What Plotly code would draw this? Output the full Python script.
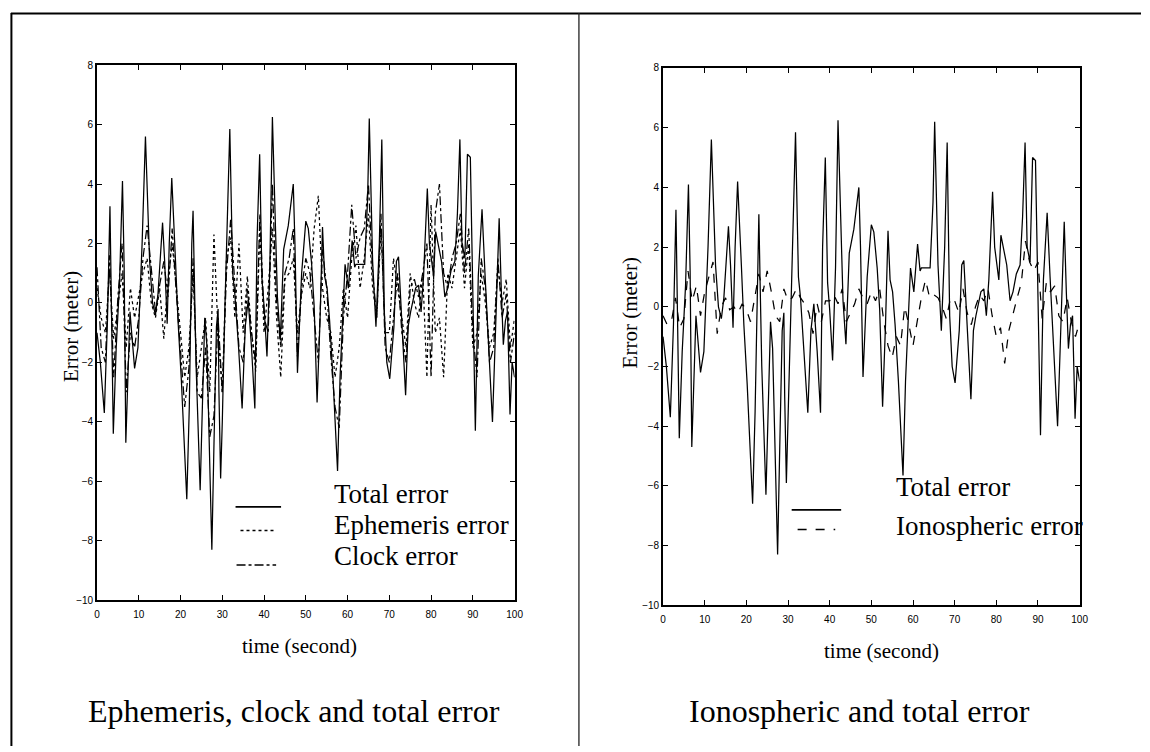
import plotly.graph_objects as go

# ---------------- data ----------------
total_t = [0.0, 0.8, 1.75, 2.5, 3.1, 3.5, 3.9, 4.6, 5.4, 6.1, 6.5, 6.9, 7.4, 7.9, 8.3, 9.0, 9.8,
           10.3, 10.8, 11.6, 12.6, 13.3, 14.0, 14.6, 15.7, 16.2, 16.8, 17.3, 17.9, 18.8, 19.4,
           20.2, 21.5, 22.1, 22.7, 23.0, 23.3, 23.7, 24.7, 25.2, 25.8, 26.3, 26.9, 27.5, 28.0,
           28.6, 29.0, 29.2, 29.6, 30.0, 30.6, 31.1, 31.8, 32.5, 33.0, 33.9, 34.75, 35.5, 36.2,
           37.0, 37.8, 38.3, 38.95, 39.5, 40.0, 40.7, 41.4, 42.0, 42.7, 43.2, 43.9, 44.7, 45.8,
           47.0, 47.4, 48.0, 49.0, 50.0, 50.6, 51.4, 52.0, 52.7, 53.4, 54.0, 54.5, 55.1, 55.7,
           56.5, 57.6, 58.2, 58.8, 59.4, 60.2, 61.1, 61.7, 62.0, 64.1, 64.8, 65.2, 66.0, 66.8,
           67.6, 68.2, 68.8, 69.4, 70.1, 71.1, 71.7, 72.2, 72.7, 73.2, 73.9, 74.5, 75.1, 76.3,
           77.0, 77.6, 78.2, 79.1, 79.6, 80.6, 81.1, 82.5, 83.3, 84.0, 84.8, 85.7, 86.3, 86.9,
           87.4, 88.1, 88.7, 89.4, 89.8, 90.6, 91.3, 92.2, 92.9, 93.7, 94.7, 95.3, 96.3, 96.8,
           97.3, 97.8, 98.3, 98.9, 99.4, 100.0]
total_err = [-1.0, -2.0, -3.7, -0.6, 3.25, -0.8, -4.4, -1.5, 0.7, 4.1, 1.2, -4.7, -2.6, -0.3, -1.0,
             -2.2, -1.5, 0.0, 2.0, 5.6, 1.4, 0.0, -0.4, 0.3, 2.7, 1.4, -0.7, 2.0, 4.2, 1.4, -0.6,
             -2.6, -6.6, -3.5, 2.0, 3.1, 0.8, -2.0, -6.3, -3.5, -0.5, -1.4, -4.8, -8.3, -4.8,
             -0.8, -0.2, -3.0, -5.9, -4.0, -0.3, 2.1, 5.85, 1.0, 0.3, -1.5, -3.55, -0.8, 0.1,
             -1.5, -3.55, 2.0, 5.0, 0.8, -0.1, -1.8, 1.3, 6.25, 2.3, 0.2, -1.25, 1.8, 2.6,
             4.0, 2.0, -2.35, 1.0, 2.75, 2.5, 1.3, -0.1, -3.35, -0.6, 2.55, 0.9, 0.5, -0.6,
             -2.5, -5.65, -2.5, -0.6, 1.3, 0.5, 2.1, 1.2, 1.3, 1.3, 3.5, 6.2, 1.4, -0.8,
             2.0, 5.5, -0.3, -2.0, -2.55, -0.8, 1.4, 1.55, 0.2, -0.8, -3.1, -0.8, -0.3, 0.5,
             0.6, -0.3, 0.9, 3.85, 2.0, 0.9, 2.4, 1.4, 0.2, 0.5, 1.1, 1.4, 3.0, 5.5,
             2.0, 1.5, 5.0, 4.9, 2.0, -4.3, 0.9, 3.15, 1.0, -1.4, -4.0, -1.5, 2.85, 0.5,
             -1.4, -0.6, -0.3, -3.75, -2.0, -2.5]

comp_t = list(range(0, 101))
ephemeris_err = [0.5, -0.5, -1.0, 1.0, -1.2, 0.0, 1.0, -1.5, 0.5, -0.5, 0.3, 1.0, 1.5, 0.0, -0.5,
                 0.5, -1.2, 0.8, 2.0, 0.5, -1.0, -2.5, -1.5, 1.0, -2.5, -1.5, -0.5, -3.0, 2.3,
                 -1.0, -3.0, 1.5, 2.2, -0.5, 2.0, -1.0, 0.9, -1.0, -2.3, 2.5, -1.0, 0.5, 2.5,
                 -0.5, -2.5, 0.8, 1.0, 1.5, -1.0, 0.3, 1.0, 0.5, 2.5, 3.6, 0.5, -0.5, -1.0,
                 -2.5, -1.5, 0.5, -0.5, 1.5, 2.6, 0.5, 1.5, 3.0, 0.5, -0.5, 2.5, -1.0, -1.0,
                 1.5, 0.5, -0.5, -1.5, 1.0, 0.0, -0.5, 1.0, -2.5, 3.3, -1.0, -0.5, -2.5, 1.0,
                 0.5, 1.5, 2.5, 0.5, 2.0, -1.5, -1.0, 1.0, 0.0, -1.5, -1.0, 1.2, 0.0, 0.8,
                 -1.5, -0.5]
clock_err = [1.2, -1.5, -2.0, 1.6, -2.5, 0.2, 2.0, -3.0, -1.0, -1.5, -0.5, 1.5, 2.6, 1.2, -0.3,
             0.6, 1.4, 0.2, 2.5, 0.3, -1.5, -3.5, -2.2, 1.5, -3.0, -3.2, -1.5, -4.5, -3.8,
             -0.5, -3.0, 1.0, 2.8, 0.5, -1.5, -2.0, 0.5, -1.0, -2.0, 3.0, -0.5, -1.0, 4.0,
             0.0, -1.5, 1.0, 1.5, 2.5, -1.8, 0.5, 1.5, 1.0, -0.5, -2.0, 1.8, 0.5, -1.8,
             -3.5, -4.2, -0.5, 1.0, 3.3, 1.5, 2.2, 2.5, 4.0, 1.0, -0.5, 3.0, -1.5, -2.0,
             -0.5, 1.0, -1.0, -2.0, 0.5, 0.8, 0.2, 1.0, 2.0, -2.5, 3.0, 4.0, 1.0, 0.5,
             1.5, 2.0, 3.0, 1.0, 2.5, -1.0, -2.5, 1.5, 0.5, -2.0, -1.5, 1.5, -0.5, 0.3,
             -2.0, -1.0]
iono_err = [-0.3, -0.6, -0.5, 0.3, -0.7, -0.4, 1.2, 0.2, 0.7, -0.3, 0.5, 1.0, 1.5, -0.9, 0.0,
            0.3, -0.1, 0.0, -0.2, 0.1, -0.1, -0.5, 0.3, 1.1, 0.5, 1.2, 0.5, -0.3, -0.5,
            0.6, 0.2, 0.3, 0.6, 0.3, 0.1, -0.2, -0.9, 0.1, -0.5, 0.2, 0.2, 0.4, 0.1,
            0.6, -0.5, -0.2, 0.1, 0.6, 0.3, 0.1, 0.5, 0.2, 0.6, -0.5, -1.3, -1.7, -1.0,
            -1.3, 0.0, -0.6, -1.3, -0.5, 0.3, 0.9, 0.3, 0.4, 0.3, 0.0, -0.4, 0.3, 0.2,
            -0.2, 0.6, -0.2, -0.6, 0.0, 0.4, 0.2, 0.6, -0.3, -1.0, -0.7, -1.9, -0.8, -0.2,
            0.3, 0.8, 2.2, 1.5, 1.2, 1.5, -0.4, 0.8, 0.5, 0.7, -0.3, -0.5, 0.3, -0.5,
            -1.0, -0.5]

x_ticks = [0, 10, 20, 30, 40, 50, 60, 70, 80, 90, 100]
y_ticks = [-10, -8, -6, -4, -2, 0, 2, 4, 6, 8]

W, H = 1150, 752
def px(x):
    return x / W
def py(y):
    return 1 - y / H

SERIF = "Liberation Serif, Times New Roman, serif"
TICKF = dict(family="Liberation Sans Narrow, Liberation Sans, Arial", size=10, color="black")

fig = go.Figure()
LW = 1.25
fig.add_trace(go.Scatter(x=comp_t, y=ephemeris_err, mode="lines", line=dict(color="black", width=LW, dash="dot"),
                         xaxis="x", yaxis="y", showlegend=False))
fig.add_trace(go.Scatter(x=comp_t, y=clock_err, mode="lines", line=dict(color="black", width=LW, dash="dashdot"),
                         xaxis="x", yaxis="y", showlegend=False))
fig.add_trace(go.Scatter(x=total_t, y=total_err, mode="lines", line=dict(color="black", width=LW),
                         xaxis="x", yaxis="y", showlegend=False))
fig.add_trace(go.Scatter(x=comp_t, y=iono_err, mode="lines", line=dict(color="black", width=LW, dash="dash"),
                         xaxis="x2", yaxis="y2", showlegend=False))
fig.add_trace(go.Scatter(x=total_t, y=total_err, mode="lines", line=dict(color="black", width=LW),
                         xaxis="x2", yaxis="y2", showlegend=False))

ax_common = dict(showline=True, linecolor="black", linewidth=1.8, mirror="ticks", ticks="inside",
                 ticklen=5, tickcolor="black", tickwidth=1.3, showgrid=False, zeroline=False,
                 tickfont=TICKF)
fig.update_layout(
    width=W, height=H, margin=dict(l=0, r=0, t=0, b=0),
    paper_bgcolor="white", plot_bgcolor="white",
    xaxis=dict(domain=[px(95), px(517)], range=[0, 100], tickvals=x_ticks, anchor="y",
               ticklabelstandoff=4, **ax_common),
    yaxis=dict(domain=[py(604), py(60)], range=[-10, 8], tickvals=y_ticks, anchor="x", **ax_common),
    xaxis2=dict(domain=[px(667), px(1088)], range=[0, 100], tickvals=x_ticks, anchor="y2",
                ticklabelstandoff=4, **ax_common),
    yaxis2=dict(domain=[py(609), py(63)], range=[-10, 8], tickvals=y_ticks, anchor="x2", **ax_common),
)

shapes = []
# outer frame
shapes.append(dict(type="line", xref="paper", yref="paper", x0=px(8), x1=1.0, y0=py(7.5), y1=py(7.5),
                   line=dict(color="black", width=2)))
shapes.append(dict(type="line", xref="paper", yref="paper", x0=px(8.5), x1=px(8.5), y0=py(7), y1=0,
                   line=dict(color="black", width=2)))
shapes.append(dict(type="line", xref="paper", yref="paper", x0=px(582), x1=px(582), y0=py(7), y1=0,
                   line=dict(color="#222", width=1.3)))
# legend samples (left)
shapes.append(dict(type="line", xref="paper", yref="paper", x0=px(235), x1=px(281), y0=py(509), y1=py(509),
                   line=dict(color="black", width=1.8)))
shapes.append(dict(type="line", xref="paper", yref="paper", x0=px(240), x1=px(276), y0=py(533), y1=py(533),
                   line=dict(color="black", width=1.5, dash="dot")))
shapes.append(dict(type="line", xref="paper", yref="paper", x0=px(236), x1=px(276), y0=py(568), y1=py(568),
                   line=dict(color="black", width=1.4, dash="dashdot")))
# legend samples (right)
shapes.append(dict(type="line", xref="paper", yref="paper", x0=px(797), x1=px(847), y0=py(512), y1=py(512),
                   line=dict(color="black", width=1.8)))
shapes.append(dict(type="line", xref="paper", yref="paper", x0=px(803), x1=px(841), y0=py(532), y1=py(532),
                   line=dict(color="black", width=1.5, dash="dash")))
fig.update_layout(shapes=shapes)

def txt(x, y, s, size, xanchor="left", angle=0):
    return dict(x=px(x), y=py(y), xref="paper", yref="paper", text=s, showarrow=False,
                xanchor=xanchor, yanchor="middle", textangle=angle,
                font=dict(family=SERIF, size=size, color="black"))

ann = [
    txt(332, 496, "Total error", 27),
    txt(332, 527, "Ephemeris error", 27),
    txt(332, 559, "Clock error", 27),
    txt(900, 489, "Total error", 27),
    txt(900, 528, "Ionospheric error", 27),
    txt(69, 326, "Error (meter)", 21, "center", -90),
    txt(634, 312, "Error (meter)", 21, "center", -90),
    txt(300, 650, "time (second)", 21, "center"),
    txt(888, 655, "time (second)", 21, "center"),
    txt(294, 716, "Ephemeris, clock and total error", 32, "center"),
    txt(866, 716, "Ionospheric and total error", 32, "center"),
]
fig.update_layout(annotations=ann)

fig.write_html("out.html")
